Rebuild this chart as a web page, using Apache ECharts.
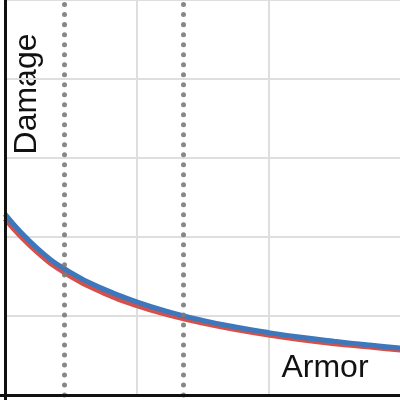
<!DOCTYPE html>
<html>
<head>
  <meta charset="utf-8">
</head>
<body style="margin: 0">
  <div id="container" style="width: 400px; height: 400px"></div>

  <script type="text/javascript" src="https://cdn.jsdelivr.net/npm/echarts@6/dist/echarts.min.js"></script>

  <script type="text/javascript">
    // values (armor in grid units, damage in grid units)
    const armor = [0, 0.25, 0.5, 0.75, 1, 1.25, 1.5, 1.75, 2, 2.25, 2.5, 2.75, 3, 3.1];
    const damageBlue = [2.29, 1.85, 1.55, 1.34, 1.18, 1.05, 0.945, 0.86, 0.79, 0.73, 0.68, 0.635, 0.595, 0.58];
    const damageRed = [2.23, 1.80, 1.50, 1.29, 1.13, 1.01, 0.91, 0.83, 0.76, 0.70, 0.65, 0.61, 0.57, 0.555];
    const markers = [0.45, 1.35];

    var myChart = echarts.init(document.getElementById('container'), null, { renderer: 'canvas' });

    function pairs(ys) {
      return armor.map(function (x, i) { return [x, ys[i]]; });
    }

    var axisDark = { show: true, lineStyle: { color: '#111', width: 3 } };
    // tick at zero only, so the axis lines run a few pixels past the corner
    var cornerTick = { show: true, customValues: [0], length: 5, lineStyle: { color: '#111', width: 3 } };

    var option = {
      animation: false,
      backgroundColor: '#fff',
      grid: { left: 5, right: 0, top: 0, bottom: 5 },
      xAxis: [
        {
          type: 'value', min: 0, max: 2.999, interval: 1,
          axisLine: axisDark, axisTick: cornerTick,
          axisLabel: { show: false }, splitLine: { show: false }, z: 5
        },
        {
          type: 'value', min: 0, max: 2.999, interval: 1, position: 'top',
          axisLine: { show: false }, axisTick: { show: false }, axisLabel: { show: false },
          splitLine: { showMaxLine: false, lineStyle: { color: '#dedede', width: 2 } }
        }
      ],
      yAxis: [
        {
          type: 'value', min: 0, max: 5, interval: 1,
          axisLine: axisDark, axisTick: cornerTick,
          axisLabel: { show: false }, splitLine: { show: false }, z: 5
        },
        {
          type: 'value', min: 0, max: 5, interval: 1, position: 'right',
          axisLine: { show: false }, axisTick: { show: false }, axisLabel: { show: false },
          splitLine: { lineStyle: { color: '#dedede', width: 2 } }
        }
      ],
      graphic: [
        {
          type: 'text',
          x: 27, y: 94,
          rotation: Math.PI / 2,
          style: {
            text: 'Damage',
            font: '32px "Liberation Sans", Arial, sans-serif',
            fill: '#111',
            textAlign: 'center',
            textVerticalAlign: 'middle'
          }
        },
        {
          type: 'text',
          x: 325, y: 368,
          style: {
            text: 'Armor',
            font: '32px "Liberation Sans", Arial, sans-serif',
            fill: '#111',
            textAlign: 'center',
            textVerticalAlign: 'middle'
          }
        }
      ],
      series: [
        {
          type: 'line',
          data: pairs(damageRed),
          smooth: true,
          showSymbol: false,
          lineStyle: { color: '#d5504a', width: 5 },
          z: 2
        },
        {
          type: 'line',
          data: pairs(damageBlue),
          smooth: true,
          showSymbol: false,
          lineStyle: { color: '#3c78bb', width: 5 },
          z: 3
        },
        {
          type: 'line',
          data: [],
          z: 4,
          markLine: {
            silent: true,
            symbol: ['none', 'none'],
            label: { show: false },
            lineStyle: { color: '#7a7a7a', width: 5, type: [0.01, 10], cap: 'round', opacity: 0.9 },
            data: markers.map(function (m) { return { xAxis: m }; })
          }
        }
      ]
    };

    myChart.setOption(option);
    window.addEventListener('resize', myChart.resize);
  </script>
</body>
</html>
